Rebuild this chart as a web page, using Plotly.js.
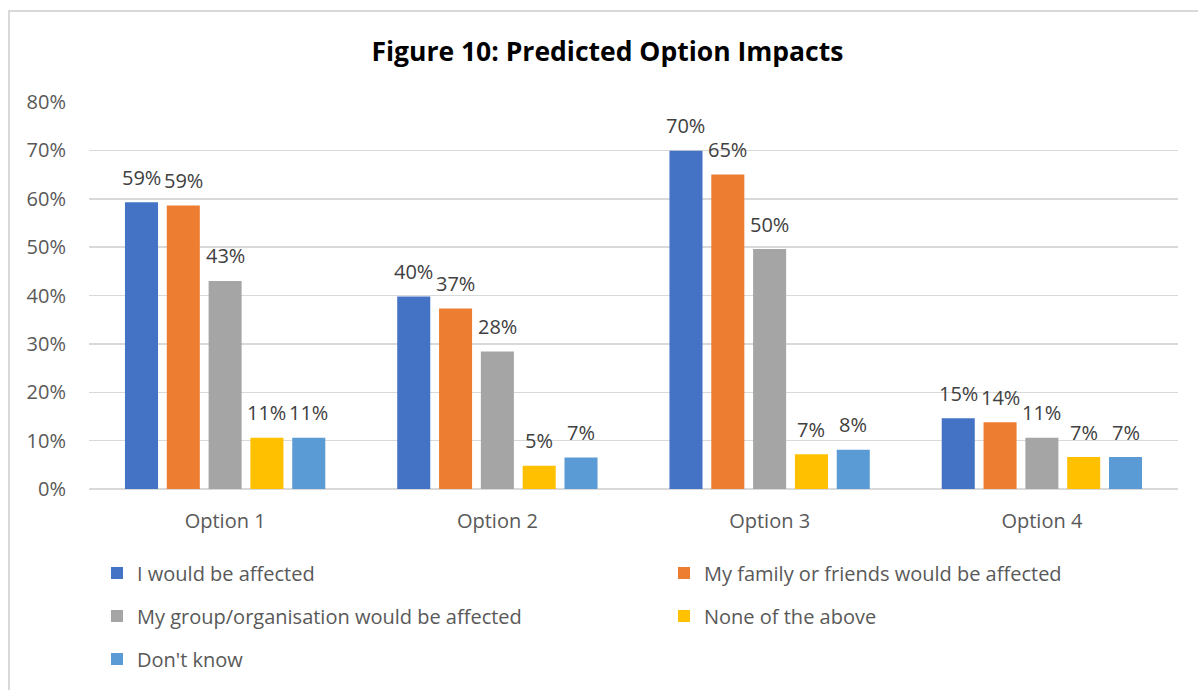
<!DOCTYPE html>
<html>
<head>
<meta charset="utf-8">
<script src="https://cdn.plot.ly/plotly-3.0.1.min.js"></script>
<style>
  html, body { margin: 0; padding: 0; background: #ffffff; overflow: hidden; }
  #frame {
    position: absolute; left: 8px; top: 10px; width: 1400px; height: 900px;
    border-left: 2px solid #d9d9d9; border-top: 2px solid #d9d9d9;
  }
  #chart { position: absolute; left: 0; top: 0; width: 1198px; height: 690px; }
</style>
</head>
<body>
<div id="frame"></div>
<div id="chart"></div>
<script>
// Categories and series (percent of respondents)
const categories = ['Option 1', 'Option 2', 'Option 3', 'Option 4'];
const seriesNames = [
  'I would be affected',
  'My family or friends would be affected',
  'My group/organisation would be affected',
  'None of the above',
  "Don't know"
];
const iWouldBeAffected      = [59.3, 39.8, 69.9, 14.6];
const familyOrFriends       = [58.6, 37.3, 65.0, 13.8];
const groupOrganisation     = [43.0, 28.4, 49.6, 10.6];
const noneOfTheAbove        = [10.6, 4.8, 7.2, 6.6];
const dontKnow              = [10.6, 6.5, 8.1, 6.6];
const seriesValues = [iWouldBeAffected, familyOrFriends, groupOrganisation, noneOfTheAbove, dontKnow];
const seriesColors = ['#4472C4', '#ED7D31', '#A5A5A5', '#FFC000', '#5B9BD5'];

const FONT = 'Open Sans, sans-serif';
const W = 1198, H = 690;
const margin = { l: 89, r: 20, t: 102, b: 201 };
const plotW = W - margin.l - margin.r;
const plotH = H - margin.t - margin.b;
const bargap = 0.232, bargroupgap = 0.21;

// legend grid: two columns, entries filled row by row
const legendColX = [97, 664];
const legendRowY = [573, 616, 659];

const legendIds = seriesValues.map((_, i) => i === 0 ? 'legend' : 'legend' + (i + 1));
const traces = seriesValues.map((vals, i) => ({
  type: 'bar',
  name: seriesNames[i],
  x: categories,
  y: vals,
  marker: { color: seriesColors[i], line: { width: 0 } },
  legend: legendIds[i],
  hoverinfo: 'x+y+name'
}));

// value labels sit above each bar, shifted to that bar's slot in its group
const slot = plotW / categories.length * (1 - bargap) / seriesValues.length;
const annotations = [];
seriesValues.forEach((vals, i) => {
  vals.forEach((v, j) => {
    annotations.push({
      x: categories[j], y: v, xref: 'x', yref: 'y',
      text: Math.round(v) + '%',
      showarrow: false,
      xanchor: 'center', yanchor: 'middle',
      xshift: (i - (seriesValues.length - 1) / 2) * slot,
      yshift: 25,
      font: { family: FONT, size: 20, color: '#404040' }
    });
  });
});

const legends = {};
legendIds.forEach((id, i) => {
  legends[id] = {
    orientation: 'h',
    xref: 'container', yref: 'container',
    xanchor: 'left', yanchor: 'middle',
    x: legendColX[i % 2] / W,
    y: 1 - legendRowY[Math.floor(i / 2)] / H,
    font: { family: FONT, size: 20, color: '#595959' },
    bgcolor: 'rgba(0,0,0,0)'
  };
});

const layout = Object.assign({
  width: W, height: H,
  margin: margin,
  paper_bgcolor: 'rgba(0,0,0,0)',
  plot_bgcolor: 'rgba(0,0,0,0)',
  title: {
    text: '<b>Figure 10: Predicted Option Impacts</b>',
    x: 0.507, xref: 'container', xanchor: 'center',
    y: 1 - 52 / H, yref: 'container', yanchor: 'middle',
    font: { family: FONT, size: 26.5, color: '#000000' }
  },
  barmode: 'group',
  bargap: bargap,
  bargroupgap: bargroupgap,
  showlegend: true,
  xaxis: {
    type: 'category',
    showgrid: false, zeroline: false, showline: false,
    ticks: '',
    ticklabelstandoff: 18,
    tickfont: { family: FONT, size: 20, color: '#595959' }
  },
  yaxis: {
    range: [0, 80], dtick: 10, ticksuffix: '%',
    showgrid: true, gridcolor: '#d9d9d9', gridwidth: 1.5,
    zeroline: true, zerolinecolor: '#d9d9d9', zerolinewidth: 1.5,
    showline: false, ticks: '',
    ticklabelstandoff: 22,
    tickfont: { family: FONT, size: 20, color: '#595959' }
  },
  annotations: annotations
}, legends);

Plotly.newPlot('chart', traces, layout, { displayModeBar: false, staticPlot: true });
</script>
</body>
</html>
